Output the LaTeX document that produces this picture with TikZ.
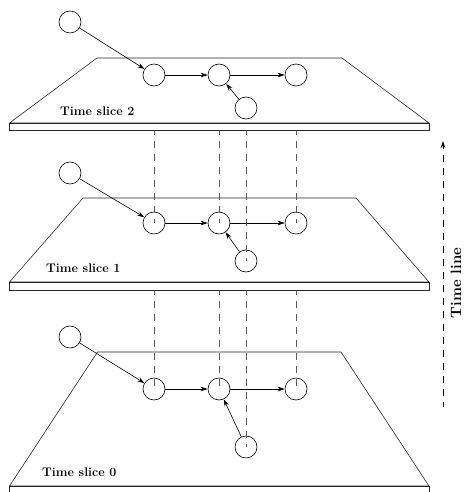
\documentclass[tikz,border=0pt]{standalone}
\usetikzlibrary{arrows.meta}
\tikzset{
	node_s/.style = {
		circle,
		draw=black,
		inner sep=0pt,
		minimum size=22pt,
		line width=0.6pt
	},
	plane/.style = {
		draw=black!85,
		line width=0.6pt
	},
	link/.style = {
		-{Stealth[length=7pt,width=4.5pt]},
		line width=0.6pt
	},
	drop/.style = {
		draw=black!65,
		dash pattern=on 7pt off 6pt,
		dash phase=2pt,
		line width=0.6pt
	},
	slice_label/.style = {
		anchor=west,
		inner sep=0pt,
		font=\fontsize{12.5}{15}\selectfont\bfseries
	},
}
\begin{document}
\begin{tikzpicture}[x=1pt,y=-1pt]
\useasboundingbox (0,0) rectangle (464,492);
% planes
\draw [plane] (97,58) -- (342,58) -- (429,123) -- (9.5,123) -- cycle;
\draw [plane] (9.5,123) rectangle (429,130);
\draw [plane] (83,198) -- (356,198) -- (429,282) -- (9.5,282) -- cycle;
\draw [plane] (9.5,282) rectangle (429,290);
\draw [plane] (97.5,352) -- (341,352) -- (429,486) -- (9.5,486) -- cycle;
\draw [plane] (9.5,492) -- (9.5,486) -- (429,486) -- (429,492);
% slice 2
\node [node_s] (s2in) at (70,22) {};
\node [node_s] (s2a) at (154,75) {};
\node [node_s] (s2b) at (219,75) {};
\node [node_s] (s2c) at (296,75) {};
\node [node_s] (s2d) at (246,108) {};
\node [slice_label] (l2) at (60,111) {Time slice 2};
% slice 1
\node [node_s] (s1in) at (70,173) {};
\node [node_s] (s1a) at (154,223) {};
\node [node_s] (s1b) at (219,223) {};
\node [node_s] (s1c) at (296,223) {};
\node [node_s] (s1d) at (246,261) {};
\node [slice_label] (l1) at (46,268) {Time slice 1};
% slice 0
\node [node_s] (s0in) at (70,337) {};
\node [node_s] (s0a) at (154,389) {};
\node [node_s] (s0b) at (219,389) {};
\node [node_s] (s0c) at (296,389) {};
\node [node_s] (s0d) at (246,447) {};
\node [slice_label] (l0) at (42,472) {Time slice 0};
% arrows inside each slice
\foreach \s in {0,1,2} {
	\draw [link] (s\s in) -- (s\s a);
	\draw [link] (s\s a) -- (s\s b);
	\draw [link] (s\s b) -- (s\s c);
	\draw [link] (s\s d) -- (s\s b);
}
% dashed drops between slices
\foreach \x/\n in {154/a,219/b,246/d,296/c} {
	\coordinate (t2\n) at (\x,130);
	\coordinate (t1\n) at (\x,290);
	\draw [drop] (t2\n) -- (s1\n.center);
	\draw [drop] (t1\n) -- (s0\n.center);
}
% time line
\coordinate (tl0) at (443,407);
\coordinate (tl1) at (443,141);
\draw [drop, draw=black, -{Stealth[length=7pt,width=4.5pt]}] (tl0) -- (tl1);
\node [rotate=90, inner sep=0pt, font=\fontsize{15}{18}\selectfont\bfseries] (tl) at (456,283) {Time line};
\end{tikzpicture}
\end{document}
